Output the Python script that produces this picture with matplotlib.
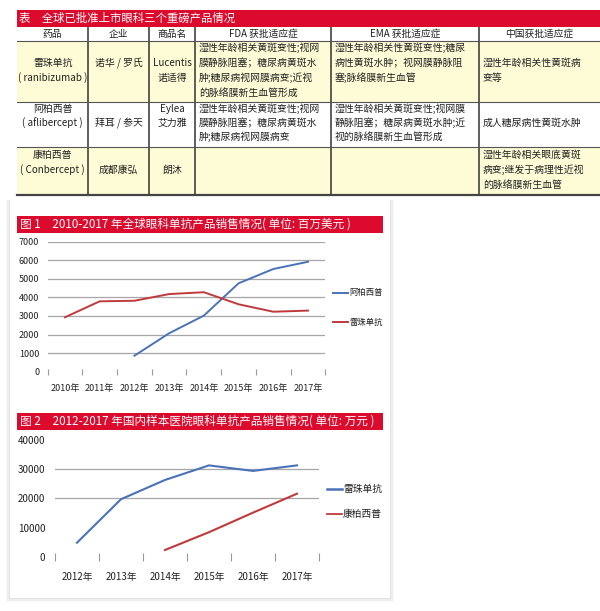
import numpy as np
import matplotlib
matplotlib.use('Agg')
import matplotlib.pyplot as plt
from matplotlib.patches import Rectangle

plt.rcParams['font.family'] = ['Noto Sans CJK SC', 'DejaVu Sans']

# ---- table data ----
TABLE_TITLE = '表　全球已批准上市眼科三个重磅产品情况'
HEADERS = ['药品', '企业', '商品名', 'FDA 获批适应症', 'EMA 获批适应症', '中国获批适应症']
DRUGS = [['雷珠单抗', '( ranibizumab )'], ['阿柏西普', '( aflibercept )'], ['康柏西普', '( Conbercept )']]
COMPANIES = [['诺华 / 罗氏'], ['拜耳 / 参天'], ['成都康弘']]
BRANDS = [['Lucentis', '诺适得'], ['Eylea', '艾力雅'], ['朗沐']]
FDA = [['湿性年龄相关黄斑变性;视网', '膜静脉阻塞；糖尿病黄斑水', '肿;糖尿病视网膜病变;近视', '的脉络膜新生血管形成'],
       ['湿性年龄相关黄斑变性;视网', '膜静脉阻塞；糖尿病黄斑水', '肿;糖尿病视网膜病变'],
       []]
EMA = [['湿性年龄相关性黄斑变性;糖尿', '病性黄斑水肿；视网膜静脉阻', '塞;脉络膜新生血管'],
       ['湿性年龄相关黄斑变性;视网膜', '静脉阻塞；糖尿病黄斑水肿;近', '视的脉络膜新生血管形成'],
       []]
CHINA = [['湿性年龄相关性黄斑病', '变等'],
         ['成人糖尿病性黄斑水肿'],
         ['湿性年龄相关眼底黄斑', '病变;继发于病理性近视', '的脉络膜新生血管']]

# ---- chart 1 data (million USD) ----
TITLE1 = '图 1　2010-2017 年全球眼科单抗产品销售情况( 单位: 百万美元 )'
YEARS1 = ['2010年', '2011年', '2012年', '2013年', '2014年', '2015年', '2016年', '2017年']
AFLIBERCEPT_GLOBAL = [np.nan, np.nan, 860, 2070, 3020, 4760, 5530, 5920]
RANIBIZUMAB_GLOBAL = [2930, 3790, 3820, 4180, 4280, 3630, 3230, 3290]
NAMES1 = ['阿柏西普', '雷珠单抗']

# ---- chart 2 data (10k CNY) ----
TITLE2 = '图 2　2012-2017 年国内样本医院眼科单抗产品销售情况( 单位: 万元 )'
YEARS2 = ['2012年', '2013年', '2014年', '2015年', '2016年', '2017年']
RANIBIZUMAB_CN = [4800, 19700, 26300, 31300, 29400, 31300]
CONBERCEPT_CN = [np.nan, np.nan, 2300, 8400, 15100, 21600]
NAMES2 = ['雷珠单抗', '康柏西普']

W, H = 600, 611
RED = '#dc0a2d'
BLUE = '#4a72b8'
DARKRED = '#bf3a3b'
YELLOW = '#fefcd6'
GRID = '#a6a6a6'
TXT = '#222222'

fig = plt.figure(figsize=(W / 100, H / 100), dpi=100)
fig.patch.set_facecolor('white')

bg = fig.add_axes([0, 0, 1, 1])
bg.set_xlim(0, W)
bg.set_ylim(H, 0)
bg.axis('off')


def px_axes(x0, y0, x1, y1):
    a = fig.add_axes([x0 / W, 1 - y1 / H, (x1 - x0) / W, (y1 - y0) / H])
    a.patch.set_alpha(0)
    return a


# ---------------- table ----------------
col_x = [17, 88, 149, 195, 331, 479, 600]
row_y = [27, 41, 102, 147, 195]
row_lines = [[48, 63, 78, 93], [109, 123, 137], [155, 170, 185]]
fills = [YELLOW, 'white', YELLOW]

bg.add_patch(Rectangle((17, 10), W - 17, 17, color=RED, lw=0))
bg.text(19, 18.5, TABLE_TITLE, color='white', fontsize=8.2, va='center', ha='left')

for i, f in enumerate(fills):
    bg.add_patch(Rectangle((col_x[0], row_y[i + 1]), W - col_x[0], row_y[i + 2] - row_y[i + 1],
                           facecolor=f, lw=0))

for j, h in enumerate(HEADERS):
    bg.text((col_x[j] + col_x[j + 1]) / 2, 34, h, fontsize=7, color=TXT, ha='center', va='center')

for r in range(3):
    cells = [DRUGS[r], COMPANIES[r], BRANDS[r], FDA[r], EMA[r], CHINA[r]]
    lines = row_lines[r]
    for j, cell in enumerate(cells):
        start = (len(lines) - len(cell)) // 2
        for k, s in enumerate(cell):
            y = lines[start + k]
            if j < 3:
                bg.text((col_x[j] + col_x[j + 1]) / 2, y, s, fontsize=7.1, color=TXT,
                        ha='center', va='center')
            else:
                bg.text(col_x[j] + 4, y, s, fontsize=7.1, color=TXT, ha='left', va='center')

for x in col_x[1:-1]:
    bg.plot([x, x], [row_y[0], row_y[-1]], color='#333333', lw=1.1, solid_capstyle='butt')
for y in row_y[1:-1]:
    bg.plot([col_x[0], W], [y, y], color='#555555', lw=0.8)
bg.plot([col_x[0], W], [row_y[-1], row_y[-1]], color='#444444', lw=1.6)

# ---------------- panel with soft shadow ----------------
for k, a in enumerate([0.06, 0.10, 0.16]):
    off = 4 - k * 1.3
    bg.add_patch(Rectangle((10 - off, 200), 380 + 2 * off, 398 + off, facecolor='#9a9a9a',
                           alpha=a, lw=0))
bg.add_patch(Rectangle((10, 200), 380, 398, facecolor='white', lw=0))

# title bars
bg.add_patch(Rectangle((17, 216), 366, 17, color=RED, lw=0))
bg.text(20, 224.5, TITLE1, color='white', fontsize=8.4, va='center', ha='left')
bg.add_patch(Rectangle((17, 413), 366, 17, color=RED, lw=0))
bg.text(20, 421.5, TITLE2, color='white', fontsize=8.4, va='center', ha='left')


def style_axes(ax, labels, ylim, yticks, grid_vals, xfs, ypad, xpad, tick_len):
    n = len(labels)
    ax.set_xlim(-0.5, n - 0.5)
    ax.set_ylim(*ylim)
    for s in ax.spines.values():
        s.set_visible(False)
    ax.set_xticks(range(n))
    ax.set_xticklabels(labels, fontsize=xfs, color=TXT)
    ax.set_xticks(np.arange(n + 1) - 0.5, minor=True)
    ax.tick_params(axis='x', which='major', length=0, pad=xpad)
    ax.tick_params(axis='x', which='minor', length=tick_len, direction='inout', color='#9a9a9a',
                   width=0.8)
    ax.set_yticks(yticks)
    ax.set_yticklabels([str(v) for v in yticks], fontsize=xfs, color=TXT)
    ax.tick_params(axis='y', length=0, pad=ypad)
    for v in grid_vals:
        ax.axhline(v, color=GRID, lw=0.9, zorder=1)


# ---------------- chart 1 ----------------
ax1 = px_axes(47.6, 241.7, 325.4, 371.7)
style_axes(ax1, YEARS1, (0, 7000), list(range(0, 7001, 1000)), list(range(1000, 7001, 1000)),
           6.5, 6, 9, 4)
x1 = np.arange(len(YEARS1))
ax1.plot(x1, AFLIBERCEPT_GLOBAL, color=BLUE, lw=1.4, zorder=3)
ax1.plot(x1, RANIBIZUMAB_GLOBAL, color=DARKRED, lw=1.4, zorder=3)

for name, col, y in zip(NAMES1, [BLUE, DARKRED], [293, 322]):
    bg.plot([333, 348], [y, y], color=col, lw=1.4)
    bg.text(349, y, name, fontsize=6, color=TXT, ha='left', va='center')

# ---------------- chart 2 ----------------
ax2 = px_axes(55, 440, 319, 556.7)
style_axes(ax2, YEARS2, (0, 40000), list(range(0, 40001, 10000)), [20000, 30000],
           7, 7, 11, 6)
x2 = np.arange(len(YEARS2))
ax2.plot(x2, RANIBIZUMAB_CN, color=BLUE, lw=1.5, zorder=3)
ax2.plot(x2, CONBERCEPT_CN, color=DARKRED, lw=1.5, zorder=3)

for name, col, y in zip(NAMES2, [BLUE, DARKRED], [489, 514]):
    bg.plot([327, 342], [y, y], color=col, lw=1.8 if col == BLUE else 1.3)
    bg.text(343, y, name, fontsize=7, color=TXT, ha='left', va='center')

fig.savefig('out.png', dpi=100, facecolor='white')
